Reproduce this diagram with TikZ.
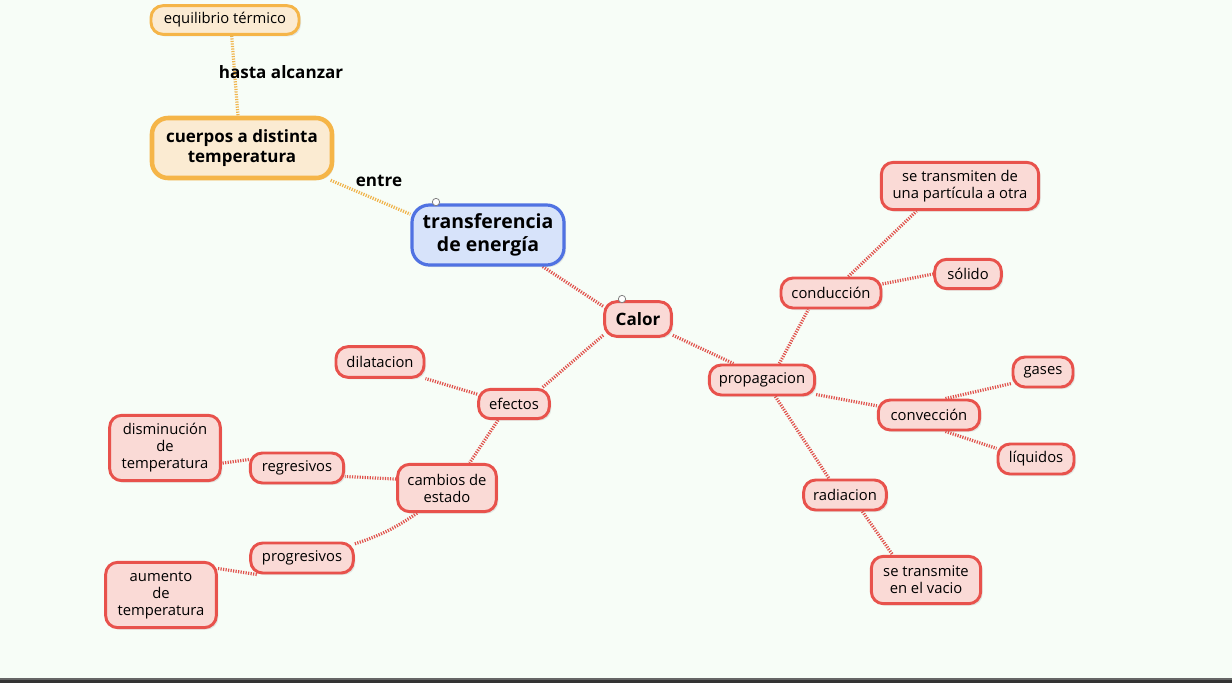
\documentclass[tikz,border=0pt]{standalone}
\usepackage{fontspec}
\setmainfont{Open Sans}
\usetikzlibrary{shadows,backgrounds}
\pgfdeclarelayer{bglayer}
\pgfdeclarelayer{edgelayer}
\pgfsetlayers{bglayer,edgelayer,main}
\definecolor{bgc}{HTML}{F7FDF7}
\definecolor{redb}{HTML}{E8524C}
\definecolor{redf}{HTML}{FADAD6}
\definecolor{redl}{HTML}{E0524C}
\definecolor{orb}{HTML}{F5B548}
\definecolor{orf}{HTML}{FBEBD2}
\definecolor{orl}{HTML}{F0B44C}
\definecolor{blb}{HTML}{5072E2}
\definecolor{blf}{HTML}{D7E3FA}
\tikzset{
  base/.style={rounded corners=9pt, align=center, inner sep=1pt,
    drop shadow={opacity=0.18, shadow xshift=1.5pt, shadow yshift=-1.5pt}},
  rnode/.style={base, draw=redb, fill=redf, line width=2.2pt, font=\fontsize{11.1}{12.8}\selectfont},
  onode/.style={base, draw=orb, fill=orf, line width=2.2pt, font=\fontsize{11.1}{12.8}\selectfont},
  conn/.style={line width=2.4pt, dash pattern=on 0.9pt off 1.0pt},
  rconn/.style={conn, draw=redl},
  oconn/.style={conn, draw=orl},
  lbl/.style={font=\bfseries\fontsize{12.8}{15}\selectfont, inner sep=1pt},
  handle/.style={circle, draw=gray, fill=white, line width=0.6pt, inner sep=0pt, minimum size=5.5pt},
}
\begin{document}
\begin{tikzpicture}[x=0.75pt,y=-0.75pt]
\begin{pgfonlayer}{bglayer}
\fill[bgc] (0,0) rectangle (1232,683);
\fill[black!80] (0,678) rectangle (1232,683);
\fill[black!60] (0,678) rectangle (1232,679.5);
\end{pgfonlayer}
\useasboundingbox (0,0) rectangle (1232,683);

% orange nodes
\node[onode, minimum width=111pt, minimum height=21.5pt] (equi) at (225,20) {equilibrio térmico};
\node[onode, line width=3.4pt, rounded corners=12pt, minimum width=135pt, minimum height=45pt, font=\bfseries\fontsize{12.7}{15}\selectfont] (cuerpos) at (242,148) {cuerpos a distinta\\temperatura};
% blue
\node[base, draw=blb, fill=blf, line width=2.4pt, rounded corners=13pt, minimum width=114pt, minimum height=45pt, font=\bfseries\fontsize{14.6}{17}\selectfont] (trans) at (488,235) {transferencia\\de energía};
% red nodes
\node[rnode, minimum width=50pt, minimum height=26pt, font=\bfseries\fontsize{12.8}{15}\selectfont] (calor) at (638,319) {Calor};
\node[rnode, minimum width=79pt, minimum height=22.5pt] (prop) at (762,380) {propagacion};
\node[rnode, minimum width=75pt, minimum height=22.5pt] (cond) at (831,293) {conducción};
\node[rnode, minimum width=118pt, minimum height=35.5pt] (part) at (960,186) {se transmiten de\\una partícula a otra};
\node[rnode, minimum width=50pt, minimum height=22pt] (sol) at (968,274) {sólido};
\node[rnode, minimum width=76pt, minimum height=22.5pt] (conv) at (929,415) {convección};
\node[rnode, minimum width=45pt, minimum height=22.5pt] (gases) at (1043,372) {gases};
\node[rnode, minimum width=57pt, minimum height=22.5pt] (liq) at (1036,459) {líquidos};
\node[rnode, minimum width=62pt, minimum height=22.5pt] (rad) at (845,495) {radiacion};
\node[rnode, minimum width=82pt, minimum height=35.5pt] (vacio) at (926,580) {se transmite\\en el vacio};
\node[rnode, minimum width=53pt, minimum height=22pt] (efec) at (514,404) {efectos};
\node[rnode, minimum width=66pt, minimum height=23pt] (dil) at (380,362) {dilatacion};
\node[rnode, minimum width=74pt, minimum height=35.5pt] (camb) at (447,488) {cambios de\\estado};
\node[rnode, minimum width=70pt, minimum height=22.5pt] (reg) at (297,468) {regresivos};
\node[rnode, minimum width=83pt, minimum height=49pt] (dism) at (165,448) {disminución\\de\\temperatura};
\node[rnode, minimum width=77pt, minimum height=22.5pt] (prog) at (302,558) {progresivos};
\node[rnode, minimum width=83pt, minimum height=49pt] (aum) at (161,595) {aumento\\de\\temperatura};

% handles
\node[handle] (h1) at (436,202) {};
\node[handle] (h2) at (622,299) {};

% labels
\node[lbl] (lhasta) at (281,72) {hasta alcanzar};
\node[lbl] (lentre) at (379,181) {entre};

\begin{pgfonlayer}{edgelayer}
\draw[oconn] ([xshift=5pt]equi.south) -- ([xshift=-3pt]cuerpos.north);
\draw[oconn] (cuerpos.-20) -- (trans.165);
\draw[rconn] (trans.-30) -- (calor.160);
\draw[rconn] (calor.-25) -- (prop.150);
\draw[rconn] (calor.-155) -- (efec.30);
\draw[rconn] ([xshift=13pt]prop.north) -- ([xshift=-17pt]cond.south);
\draw[rconn] ([xshift=13pt]cond.north) -- (part.-150);
\draw[rconn] (cond.10) -- (sol.180);
\draw[rconn] (prop.-15) -- (conv.170);
\draw[rconn] (conv.45) -- (gases.200);
\draw[rconn] (conv.-45) -- (liq.165);
\draw[rconn] ([xshift=10pt]prop.south) -- ([xshift=-12pt]rad.north);
\draw[rconn] ([xshift=13pt]rad.south) -- ([xshift=-25pt]vacio.north);
\draw[rconn] (efec.165) -- (dil.-20);
\draw[rconn] ([xshift=-12pt]efec.south) -- ([xshift=17pt]camb.north);
\draw[rconn] (camb.170) -- (reg.-10);
\draw[rconn] (camb.-140) to[bend left=8] (prog.15);
\draw[rconn] (reg.170) -- (dism.-15);
\draw[rconn] (prog.-160) -- (aum.25);
\end{pgfonlayer}
\end{tikzpicture}
\end{document}
